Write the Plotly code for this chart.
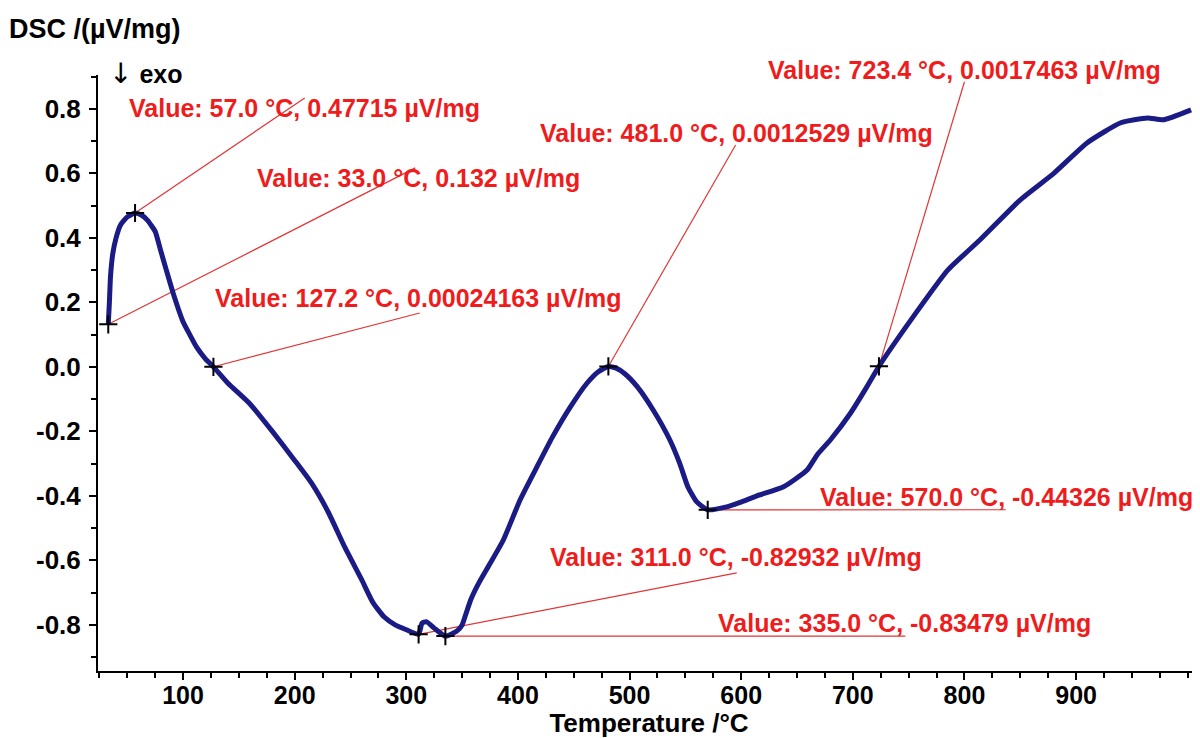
import plotly.graph_objects as go

# DSC curve
temp = [33, 34, 35, 37, 40, 44, 50, 57, 63, 68, 75, 80, 85, 91, 100, 106, 112, 120, 127.2,
        140, 160, 180, 200, 215, 230, 245, 260, 270, 280, 290, 300, 311, 314, 318, 325, 335,
        345, 350, 353, 358, 365, 375, 387, 402, 417, 431, 447, 462, 472, 481, 488, 496, 507,
        521, 536, 545, 552, 560, 570, 587, 599, 614, 638, 659, 668, 680, 698, 712, 723.4, 754,
        785, 814, 850, 880, 910, 940, 964, 978, 1003]
dsc = [0.132, 0.2, 0.28, 0.35, 0.40, 0.44, 0.465, 0.477, 0.47, 0.455, 0.42, 0.36, 0.3, 0.23,
       0.14, 0.1, 0.062, 0.025, 0.0, -0.05, -0.115, -0.2, -0.29, -0.36, -0.45, -0.56, -0.66,
       -0.73, -0.775, -0.8, -0.815, -0.829, -0.795, -0.79, -0.81, -0.835, -0.82, -0.8, -0.77,
       -0.72, -0.67, -0.61, -0.536, -0.412, -0.31, -0.217, -0.124, -0.05, -0.015, 0.00125,
       -0.004, -0.022, -0.062, -0.133, -0.226, -0.3, -0.37, -0.418, -0.443, -0.434, -0.42,
       -0.40, -0.372, -0.32, -0.273, -0.226, -0.143, -0.065, 0.00175, 0.155, 0.30, 0.394,
       0.518, 0.60, 0.695, 0.757, 0.772, 0.766, 0.797]

# Marked points
pt_x = [57.0, 33.0, 127.2, 481.0, 723.4, 570.0, 311.0, 335.0]
pt_y = [0.47715, 0.132, 0.00024163, 0.0012529, 0.0017463, -0.44326, -0.82932, -0.83479]
pt_text = ["Value: 57.0 °C, 0.47715 µV/mg",
           "Value: 33.0 °C, 0.132 µV/mg",
           "Value: 127.2 °C, 0.00024163 µV/mg",
           "Value: 481.0 °C, 0.0012529 µV/mg",
           "Value: 723.4 °C, 0.0017463 µV/mg",
           "Value: 570.0 °C, -0.44326 µV/mg",
           "Value: 311.0 °C, -0.82932 µV/mg",
           "Value: 335.0 °C, -0.83479 µV/mg"]
# label anchor (left edge, middle) and leader-line end, in data units
lab_x = [49.8, 164.5, 126.9, 418, 622, 669, 427, 577]
lab_y = [0.803, 0.586, 0.214, 0.726, 0.921, -0.403, -0.589, -0.794]
lead_x = [209, 308, 312, 595, 800, 837, 596, 747]
lead_y = [0.834, 0.617, 0.167, 0.688, 0.884, -0.443, -0.639, -0.835]

x_ticks = [100, 200, 300, 400, 500, 600, 700, 800, 900]
y_ticks = [-0.8, -0.6, -0.4, -0.2, 0.0, 0.2, 0.4, 0.6, 0.8]
y_ticktext = [f"{v:.1f}" for v in y_ticks]

X_RANGE = [23.8, 1011]
Y_RANGE = [-0.943, 0.905]

RED = "#ee1c1c"
LINE_RED = "#e03535"
NAVY = "#1b1b85"
FONT = "Liberation Sans, Arial, sans-serif"

fig = go.Figure()

# leader lines
for px, py, lx, ly in zip(pt_x, pt_y, lead_x, lead_y):
    fig.add_trace(go.Scatter(x=[px, lx], y=[py, ly], mode="lines",
                             line=dict(color=LINE_RED, width=1.2),
                             hoverinfo="skip", showlegend=False, cliponaxis=False))

fig.add_trace(go.Scatter(x=temp, y=dsc, mode="lines",
                         line=dict(color=NAVY, width=5, shape="spline", smoothing=0.5),
                         showlegend=False))

fig.add_trace(go.Scatter(x=pt_x, y=pt_y, mode="markers",
                         marker=dict(symbol="cross-thin", size=13,
                                     line=dict(color="black", width=2)),
                         showlegend=False))

for t, lx, ly in zip(pt_text, lab_x, lab_y):
    yp = (ly - Y_RANGE[0]) / (Y_RANGE[1] - Y_RANGE[0])
    fig.add_annotation(x=lx, y=yp, xref="x", yref="paper", text=t, showarrow=False,
                       xanchor="left", yanchor="middle",
                       font=dict(family=FONT, size=25, color=RED, weight="bold"))

fig.add_annotation(xref="paper", yref="paper", x=-0.0823, y=1.078, xanchor="left",
                   yanchor="middle", text="DSC /(µV/mg)", showarrow=False,
                   font=dict(family=FONT, size=27, color="black", weight="bold"))
fig.add_annotation(xref="paper", yref="paper", x=0.0085, y=1.003, xanchor="left",
                   yanchor="middle",
                   text="<span style='font-family:DejaVu Sans;font-weight:normal;font-size:28px'>↓</span> exo",
                   showarrow=False,
                   font=dict(family=FONT, size=25, color="black", weight="bold"))

fig.update_layout(
    width=1192, height=730,
    margin=dict(l=90, r=0, t=67, b=67),
    plot_bgcolor="white", paper_bgcolor="white",
    font=dict(family=FONT, color="black"),
    xaxis=dict(range=X_RANGE, tickvals=x_ticks, showgrid=False, zeroline=False,
               showline=True, linecolor="black", linewidth=2, ticks="outside",
               ticklen=7, tickwidth=1.5, tickcolor="black", ticklabelstandoff=-6,
               tickfont=dict(family=FONT, size=25, color="black", weight="bold"),
               minor=dict(dtick=25, tick0=0, ticks="outside", ticklen=5, tickcolor="black"),
               title=dict(text="Temperature /°C", standoff=11,
                          font=dict(family=FONT, size=26, color="black", weight="bold"))),
    yaxis=dict(range=Y_RANGE, tickvals=y_ticks, ticktext=y_ticktext, showgrid=False,
               zeroline=False, showline=True, linecolor="black", linewidth=2,
               ticks="outside", ticklen=7, tickwidth=1.5, tickcolor="black",
               ticklabelstandoff=3,
               tickfont=dict(family=FONT, size=26, color="black", weight="bold"),
               minor=dict(dtick=0.1, tick0=0, ticks="outside", ticklen=5, tickcolor="black")),
)

fig.write_html("out.html")
